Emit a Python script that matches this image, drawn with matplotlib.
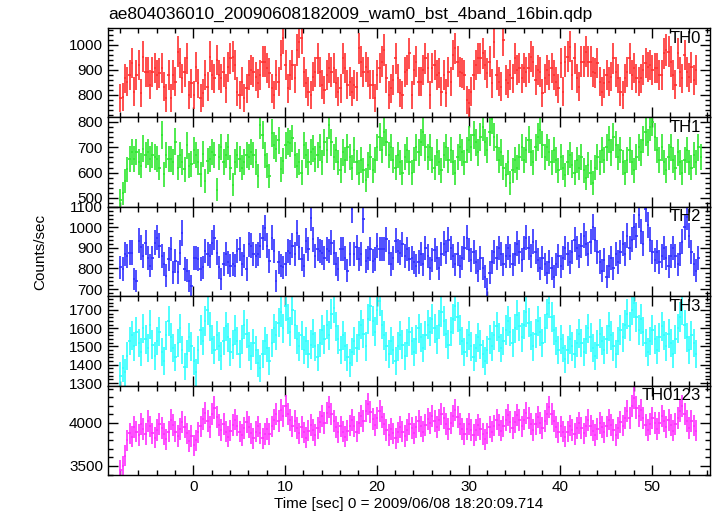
import numpy as np
import matplotlib
matplotlib.use("Agg")
import matplotlib.pyplot as plt
from matplotlib.ticker import MultipleLocator

plt.rcParams["font.family"] = ["Liberation Sans", "DejaVu Sans"]

TITLE = "ae804036010_20090608182009_wam0_bst_4band_16bin.qdp"
XLABEL = "Time [sec] 0 = 2009/06/08 18:20:09.714"
YLABEL = "Counts/sec"

T0 = -7.95      # centre of first bin (sec)
DT = 0.25       # bin width (sec)

# counts/sec per 0.25 s bin
th0 = [
    789, 793, 867, 853, 880, 927, 813, 880, 920, 807, 953, 893, 893, 840, 893, 907,
    880, 887, 907, 833, 787, 880, 787, 880, 853, 973, 927, 867, 893, 947, 800, 847,
    800, 913, 847, 787, 807, 880, 833, 953, 880, 867, 940, 880, 867, 893, 827, 913,
    947, 953, 920, 813, 800, 853, 787, 827, 880, 900, 893, 873, 847, 880, 933, 933,
    907, 887, 827, 800, 880, 853, 960, 1027, 920, 827, 880, 920, 867, 980, 1013, 1027,
    893, 847, 813, 800, 873, 893, 947, 893, 840, 820, 880, 907, 893, 907, 847, 813,
    827, 947, 907, 840, 853, 813, 840, 833, 987, 933, 893, 913, 893, 840, 840, 787,
    880, 907, 933, 980, 867, 800, 827, 860, 947, 867, 807, 800, 893, 900, 967, 800,
    900, 933, 853, 853, 900, 947, 907, 800, 907, 920, 880, 887, 813, 880, 807, 893,
    853, 960, 987, 933, 893, 887, 880, 780, 767, 813, 880, 920, 947, 947, 967, 920,
    887, 933, 847, 1013, 880, 853, 833, 1020, 860, 847, 880, 867, 947, 900, 907, 867,
    907, 893, 907, 953, 933, 860, 900, 893, 807, 867, 900, 880, 907, 880, 853, 827,
    927, 813, 933, 953, 993, 880, 947, 867, 833, 933, 933, 973, 933, 933, 893, 887,
    927, 853, 813, 847, 880, 853, 873, 947, 893, 867, 813, 800, 867, 893, 947, 880,
    907, 867, 853, 867, 900, 927, 913, 920, 900, 907, 907, 880, 880, 967, 980, 973,
    933, 880, 840, 967, 893, 867, 960, 893, 870, 910, 860, 900,
]

th1 = [
    492, 519, 566, 614, 654, 681, 654, 681, 641, 627, 695, 668, 681, 654, 668, 661,
    654, 620, 749, 593, 668, 654, 654, 641, 722, 620, 668, 641, 614, 708, 627, 634,
    688, 668, 641, 593, 674, 566, 647, 654, 681, 668, 533, 661, 701, 641, 668, 701,
    620, 553, 641, 668, 654, 620, 641, 668, 661, 681, 668, 641, 587, 789, 749, 668,
    627, 587, 756, 708, 695, 728, 614, 647, 708, 722, 715, 735, 668, 627, 641, 600,
    708, 668, 641, 681, 695, 654,
    670, 700, 640, 720, 690, 790, 720, 660, 690, 640, 610, 680, 650, 700, 660, 620,
    690, 640, 600, 650, 610, 570, 630, 660, 610, 650, 700, 740, 690, 760, 720, 670,
    700, 650, 620, 670, 640, 600, 660, 690, 640, 600, 650, 700, 680, 720, 760, 700,
    660, 700, 650, 620, 680, 640, 610, 670, 700, 650, 690, 640, 600, 660, 700, 680,
    640, 690, 730, 700, 750, 720, 680, 740, 780, 720, 690, 760, 810, 740, 700, 650,
    680, 620, 590, 640, 560, 610, 650, 620, 660, 700, 650, 690, 730, 680, 640, 700,
    740, 770, 710, 660, 700, 680, 640, 690, 650, 610, 660, 620, 590, 640, 670, 630,
    600, 650, 620, 660, 610, 580, 630, 600, 560, 620, 660, 640, 690, 650, 700, 730,
    680, 740, 710, 660, 690, 640, 600, 650, 690, 640, 610, 660, 700, 680, 730, 760,
    720, 780, 800, 740, 690, 650, 700, 640, 610, 660, 700, 650, 620, 680, 640, 600,
    650, 690, 640, 620, 670, 640, 700, 660,
]

th2 = [
    805, 797, 869, 861, 877, 877, 748, 740, 934, 902, 861, 926, 853, 813, 853, 926,
    950, 910, 861, 821, 764, 845, 894, 781, 837, 781, 877, 974, 797, 789, 740, 716,
    853, 853, 845, 797, 805, 885, 869, 861, 926, 950, 877, 805, 748, 821, 869, 829,
    813, 821, 813, 885, 894, 821, 861, 797, 918, 910, 869, 861, 869, 910, 950, 998,
    910, 837, 950, 885, 740, 829, 813, 805, 821, 885, 877, 910, 869, 974, 902, 845,
    813, 934, 894, 1047, 942, 861, 894, 885, 877, 853, 894, 885, 926, 877, 821, 797,
    894, 894, 853, 789, 869, 1087, 869, 902, 845, 869, 1039, 837, 853, 894, 837, 845,
    910, 894, 894, 894, 942, 877, 821, 853, 934, 885, 877, 918, 861, 894, 845, 853,
    829, 813,
    830, 870, 820, 900, 860, 800, 840, 890, 850, 800, 870, 920, 880, 940, 900, 860,
    820, 870, 810, 850, 900, 950, 890, 840, 880, 830, 790, 850, 800, 760, 700, 780,
    830, 880, 850, 900, 870, 820, 860, 900, 860, 820, 870, 920, 880, 840, 900, 950,
    900, 860, 930, 880, 840, 800, 850, 820, 780, 830, 800, 760, 820, 860, 810, 850,
    900, 870, 830, 880, 940, 900, 860, 910, 960, 920, 870, 930, 1000, 940, 880, 830,
    790, 840, 760, 810, 850, 800, 870, 830, 880, 920, 870, 960, 900, 940, 1000, 960,
    1060, 980, 920, 1090, 1010, 940, 880, 840, 880, 830, 860, 900, 850, 810, 860, 900,
    860, 820, 870, 930, 1000, 1050, 960, 880, 820, 790, 850,
]

th3 = [
    1340, 1380, 1360, 1450, 1530, 1560, 1500, 1580, 1520, 1470, 1600, 1540, 1490, 1620, 1510, 1450,
    1530, 1580, 1470, 1420, 1560, 1640, 1550, 1490, 1440, 1520, 1600, 1480, 1390, 1460, 1550, 1500,
    1420, 1360, 1480, 1590, 1530, 1640, 1700, 1610, 1540, 1480, 1560, 1500, 1450, 1530, 1610, 1550,
    1470, 1510, 1590, 1530, 1460, 1540, 1620, 1570, 1500, 1450, 1520, 1480, 1410, 1380, 1460, 1530,
    1490, 1420, 1520, 1600, 1560, 1630, 1690, 1600, 1720, 1650, 1580, 1700, 1620, 1540, 1500, 1560,
    1480, 1530, 1460, 1510, 1570, 1500, 1440, 1520, 1590, 1540, 1620, 1560, 1680, 1710, 1610, 1540,
    1480, 1560, 1500, 1440, 1410, 1470, 1530, 1490, 1560, 1620, 1570, 1500, 1650, 1720, 1640, 1580,
    1700, 1750, 1620, 1560, 1500, 1460, 1530, 1480, 1420, 1500, 1560, 1510, 1450, 1520, 1580, 1530,
    1470, 1540, 1600, 1550, 1490, 1560, 1620, 1580, 1650, 1600, 1540, 1620, 1690, 1640, 1570, 1510,
    1580, 1650, 1720, 1660, 1590, 1530, 1470, 1520, 1560, 1500, 1440, 1490, 1550, 1510, 1460, 1420,
    1480, 1540, 1500, 1560, 1610, 1550, 1490, 1530, 1590, 1640, 1580, 1520, 1600, 1670, 1610, 1550,
    1620, 1690, 1630, 1560, 1500, 1570, 1640, 1580, 1520, 1600, 1680, 1740, 1660, 1590, 1530, 1480,
    1540, 1490, 1430, 1480, 1540, 1500, 1460, 1520, 1570, 1520, 1470, 1540, 1600, 1550, 1490, 1450,
    1510, 1570, 1530, 1480, 1540, 1610, 1560, 1500, 1460, 1530, 1590, 1550, 1620, 1680, 1610, 1700,
    1740, 1660, 1590, 1650, 1580, 1520, 1470, 1530, 1590, 1540, 1480, 1550, 1610, 1560, 1500, 1570,
    1520, 1460, 1540, 1600, 1660, 1700, 1620, 1550, 1480, 1560, 1520, 1460,
]

th0123 = [
    3450, 3500, 3620, 3800, 3880, 3840, 3950, 3900, 3860, 3990, 3930, 3870, 4020, 3960, 3880, 3830,
    3920, 3990, 3940, 3870, 3810, 3900, 4040, 3980, 3900, 3850, 3930, 4010, 3950, 3880, 3790, 3850,
    3740, 3800, 3890, 3960, 4050, 4120, 4020, 3950, 4100, 4180, 4070, 3980, 3920, 3990, 3900, 3840,
    3910, 3980, 4040, 3970, 3900, 3860, 3940, 4010, 3950, 3880, 3820, 3900, 3960, 3880, 3820, 3870,
    3930, 3870, 3960, 4040, 4100, 4020, 4150, 4080, 4200, 4110, 4030, 3960, 4020, 3940, 3880, 3950,
    3890, 3830, 3910, 3980, 3920, 3860, 3940, 4010, 4080, 4000, 4120, 4190, 4100, 4020, 3950, 3890,
    3960, 3900, 3840, 3910, 3970, 4030, 3960, 3900, 4000, 4080, 4020, 4140, 4220, 4130, 4050, 3980,
    4060, 4140, 4070, 3990, 3920, 3860, 3930, 3880, 3820, 3890, 3950, 3900, 3850, 3920, 3990, 3940,
    3880, 3950, 4020, 3960, 3900, 3980, 4050, 4000, 4080, 4020, 3950, 4030, 4110, 4060, 3990, 3930,
    4000, 4080, 4150, 4070, 3990, 3930, 3870, 3930, 3990, 3920, 3860, 3920, 3980, 3930, 3870, 3810,
    3880, 3950, 3900, 3970, 4040, 3980, 3910, 3960, 4030, 4090, 4010, 3940, 4010, 4090, 4030, 3960,
    4040, 4120, 4060, 3990, 3920, 3990, 4070, 4000, 3940, 4020, 4110, 4190, 4100, 4020, 3950, 3890,
    3960, 3900, 3840, 3900, 3970, 3920, 3870, 3940, 4000, 3940, 3880, 3960, 4030, 3970, 3910, 3860,
    3930, 4000, 3950, 3890, 3960, 4040, 3980, 3920, 3860, 3940, 4010, 3970, 4060, 4140, 4060, 4200,
    4290, 4180, 4080, 4150, 4060, 3980, 3920, 3990, 4060, 4000, 3930, 4000, 4080, 4020, 3950, 4030,
    3980, 3910, 3990, 4060, 4140, 4200, 4100, 4020, 3940, 4020, 3970, 3910,
]

LABELS = ["TH0", "TH1", "TH2", "TH3", "TH0123"]
COLORS = ["#ff3030", "#30e830", "#3030ff", "#30ffff", "#ff30ff"]
YLIMS = [(710, 1068), (465, 818), (665, 1100), (1286, 1775), (3395, 4435)]
YMAJOR = [100, 100, 100, 100, 500]
YMINOR = [20, 20, 20, 20, 100]

fig, axes = plt.subplots(5, 1, sharex=True, figsize=(7.17, 5.16), dpi=100)
fig.subplots_adjust(left=0.1506, right=0.990, top=0.9457, bottom=0.0795, hspace=0)

for ax, y, lab, col, yl, ymaj, ymin in zip(axes, [th0, th1, th2, th3, th0123],
                                           LABELS, COLORS, YLIMS, YMAJOR, YMINOR):
    y = np.asarray(y, dtype=float)
    t = T0 + DT * np.arange(len(y))
    err = np.sqrt(y / DT)          # Poisson error on the rate
    ax.errorbar(t, y, xerr=DT / 2, yerr=err, fmt="none", ecolor=col,
                elinewidth=1.2, capsize=0)
    ax.set_ylim(*yl)
    ax.set_xlim(-9.3, 56.3)
    ax.yaxis.set_major_locator(MultipleLocator(ymaj))
    ax.yaxis.set_minor_locator(MultipleLocator(ymin))
    ax.xaxis.set_major_locator(MultipleLocator(10))
    ax.xaxis.set_minor_locator(MultipleLocator(2))
    ax.tick_params(which="both", direction="in", top=True, right=True,
                   labelsize=11, width=1)
    ax.tick_params(which="major", length=7)
    ax.tick_params(which="minor", length=3.5)
    for s in ax.spines.values():
        s.set_linewidth(1)
    ax.text(0.985, 0.97, lab, transform=ax.transAxes, ha="right", va="top",
            fontsize=12)

axes[-1].set_xlabel(XLABEL, fontsize=11, labelpad=2)
fig.text(0.056, (0.9457 + 0.0795) / 2, YLABEL, rotation=90, ha="center",
         va="center", fontsize=11)
fig.text(0.151, 0.972, TITLE, ha="left", va="center", fontsize=12.5)

fig.savefig("out.png", dpi=100)
